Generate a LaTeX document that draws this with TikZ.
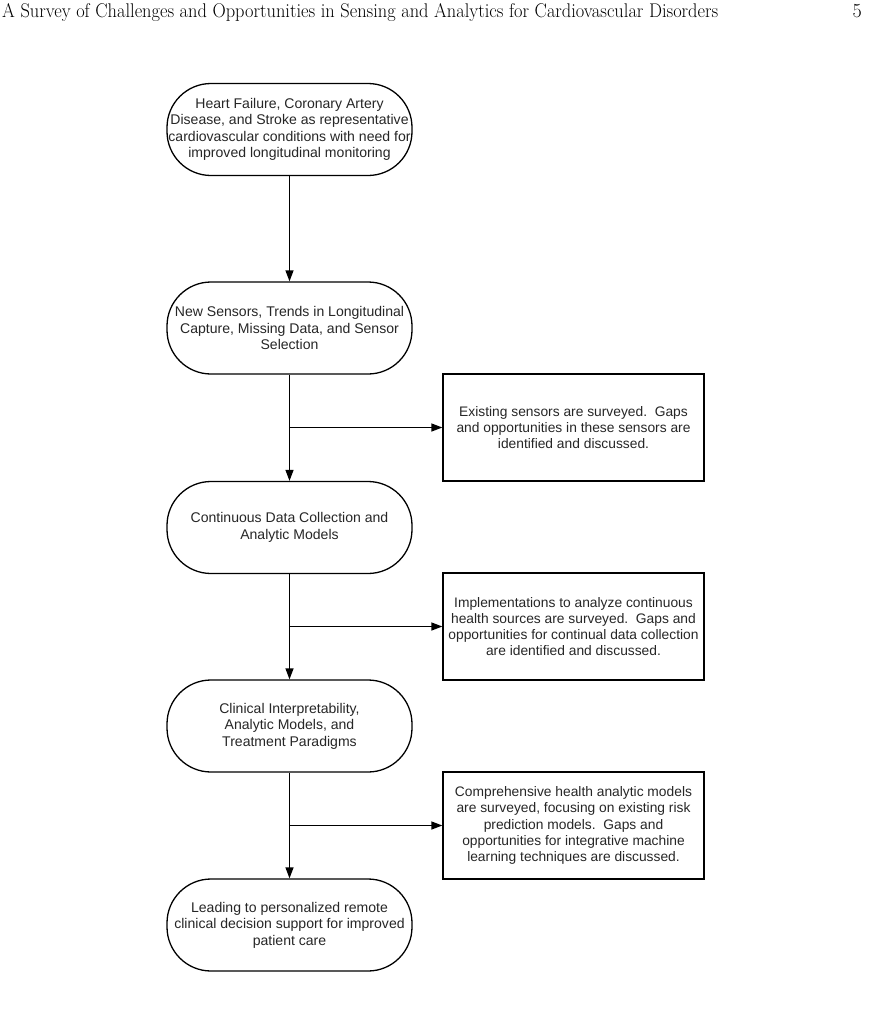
\documentclass[tikz,border=0pt]{standalone}
\usepackage{fontspec}
\setsansfont{Liberation Sans}
\usetikzlibrary{arrows.meta}
\begin{document}
\begin{tikzpicture}[x=1pt,y=-1pt,
  lbl/.style={font=\sffamily\fontsize{14.05}{16.4}\selectfont, text=black!85},
  boxlbl/.style={font=\sffamily\fontsize{13.8}{16.2}\selectfont, text=black!85},
  term/.style={lbl,draw,line width=1.3pt,rounded corners=44pt,minimum width=245pt,minimum height=92pt,inner sep=0pt,align=center},
  infobox/.style={boxlbl,draw,line width=1.3pt,minimum width=261pt,minimum height=107pt,inner sep=0pt,align=center},
  arr/.style={line width=1.3pt,-{Triangle[length=11pt,width=8pt]}}]
\useasboundingbox (0,0) rectangle (870,1028);
% header
\node[anchor=base west,inner sep=0pt] (title) at (2,17)
  {\resizebox{716pt}{14pt}{\fontsize{20}{20}\selectfont A Survey of Challenges and Opportunities in Sensing and Analytics for Cardiovascular Disorders}};
\node[anchor=base east,inner sep=0pt] (page) at (862,17) {\fontsize{20}{20}\selectfont 5};
% terminals
\node[term] (s1) at (289.5,129.5) {Heart Failure, Coronary Artery\\Disease, and Stroke as representative\\cardiovascular conditions with need for\\improved longitudinal monitoring};
\node[term] (s2) at (289.5,328) {New Sensors, Trends in Longitudinal\\Capture, Missing Data, and Sensor\\Selection};
\node[term] (s3) at (289.5,527.5) {Continuous Data Collection and\\Analytic Models};
\node[term] (s4) at (289.5,726) {Clinical Interpretability,\\Analytic Models, and\\Treatment Paradigms};
\node[term] (s5) at (289.5,925) {Leading to personalized remote\\clinical decision support for improved\\patient care};
% boxes
\node[infobox] (b1) at (573.5,427.5) {Existing sensors are surveyed.\ \ Gaps\\and opportunities in these sensors are\\identified and discussed.};
\node[infobox] (b2) at (573.5,626.5) {Implementations to analyze continuous\\health sources are surveyed.\ \ Gaps and\\opportunities for continual data collection\\are identified and discussed.};
\node[infobox] (b3) at (573.5,825.5) {Comprehensive health analytic models\\are surveyed, focusing on existing risk\\prediction models.\ \ Gaps and\\opportunities for integrative machine\\learning techniques are discussed.};
% connectors
\draw[arr] (s1) -- (s2);
\draw[arr] (s2) -- (s3);
\draw[arr] (s3) -- (s4);
\draw[arr] (s4) -- (s5);
\draw[arr] (s2.south |- b1.west) -- (b1.west);
\draw[arr] (s3.south |- b2.west) -- (b2.west);
\draw[arr] (s4.south |- b3.west) -- (b3.west);
\end{tikzpicture}
\end{document}
